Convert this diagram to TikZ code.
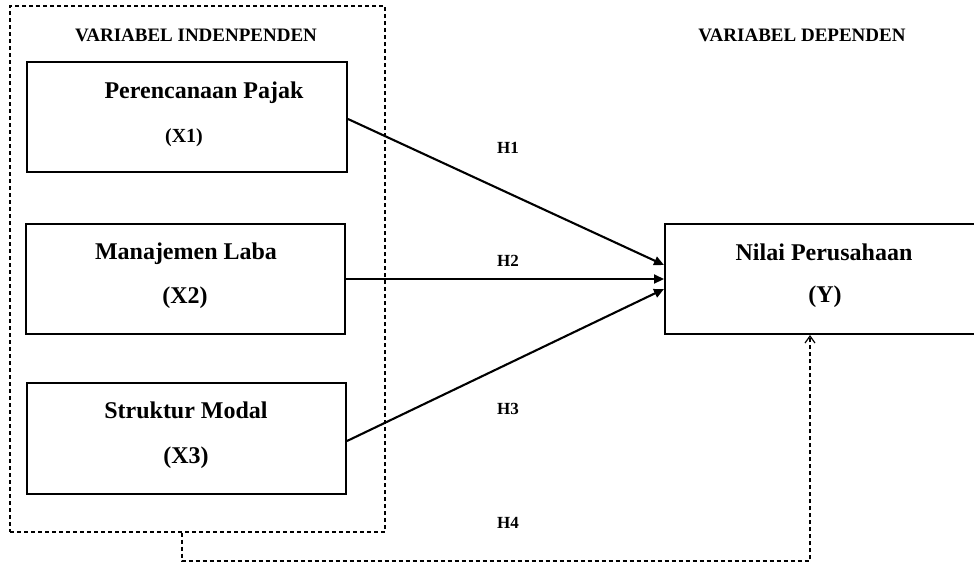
\documentclass[tikz,border=0pt]{standalone}
\usepackage{fontspec}
\setmainfont{Liberation Serif}
\usetikzlibrary{arrows.meta}
\begin{document}
\begin{tikzpicture}[x=1pt,y=-1pt,
  box/.style={draw, line width=2pt, rectangle, inner sep=0pt, minimum height=110pt},
  grp/.style={draw, line width=1.2pt, dash pattern=on 4pt off 3pt, rectangle, inner sep=0pt},
  big/.style={font=\bfseries\fontsize{24}{28}\selectfont, anchor=base, inner sep=0pt},
  mid/.style={font=\bfseries\fontsize{20}{24}\selectfont, anchor=base, inner sep=0pt},
  head/.style={font=\bfseries\fontsize{19}{22}\selectfont, anchor=base, inner sep=0pt},
  hyp/.style={font=\bfseries\fontsize{17}{20}\selectfont, anchor=base, inner sep=0pt},
  arr/.style={line width=2.1pt, -{Triangle[length=10pt,width=9pt]}},
  darr/.style={line width=1.2pt, dash pattern=on 4pt off 3pt, -{Straight Barb[length=7pt,width=10pt,line width=1.2pt]}}
]
\useasboundingbox (0,0) rectangle (974,563);
\clip (0,0) rectangle (974,563);
\fill[white] (0,0) rectangle (974,563);

% group box
\node[grp, minimum width=375pt, minimum height=526pt] (indep) at (197.5,269) {};

% boxes
\node[box, minimum width=320pt] (x1) at (187,117) {};
\node[box, minimum width=319pt] (x2) at (185.5,279) {};
\node[box, minimum width=319pt, minimum height=111pt] (x3) at (186.5,438.5) {};
\node[box, minimum width=320pt] (y) at (825,279) {};

% headings
\node[head] (hi) at (196,41) {VARIABEL INDENPENDEN};
\node[head] (hd) at (802,41) {VARIABEL DEPENDEN};

% box texts
\node[big] (t1) at (204,98) {Perencanaan Pajak};
\node[mid] (t1b) at (184,142) {(X1)};
\node[big] (t2) at (186,259) {Manajemen Laba};
\node[big] (t2b) at (185,303) {(X2)};
\node[big] (t3) at (186,418) {Struktur Modal};
\node[big] (t3b) at (186,463) {(X3)};
\node[big] (ty) at (824,260) {Nilai Perusahaan};
\node[big] (tyb) at (825,302) {(Y)};

% hypothesis labels
\node[hyp] (h1) at (508,153) {H1};
\node[hyp] (h2) at (508,266) {H2};
\node[hyp] (h3) at (508,414) {H3};
\node[hyp] (h4) at (508,528) {H4};

% arrows
\draw[arr] ([yshift=-2pt]x1.east) -- ([yshift=14pt]y.west);
\draw[arr] (x2.east) -- (y.west);
\draw[arr] ([yshift=-2.5pt]x3.east) -- ([yshift=-10pt]y.west);

% H4 dashed connector
\coordinate (c1) at (182,561);
\draw[darr] (indep.south -| c1) -- (c1) -| ([xshift=-15pt]y.south);
\end{tikzpicture}
\end{document}
